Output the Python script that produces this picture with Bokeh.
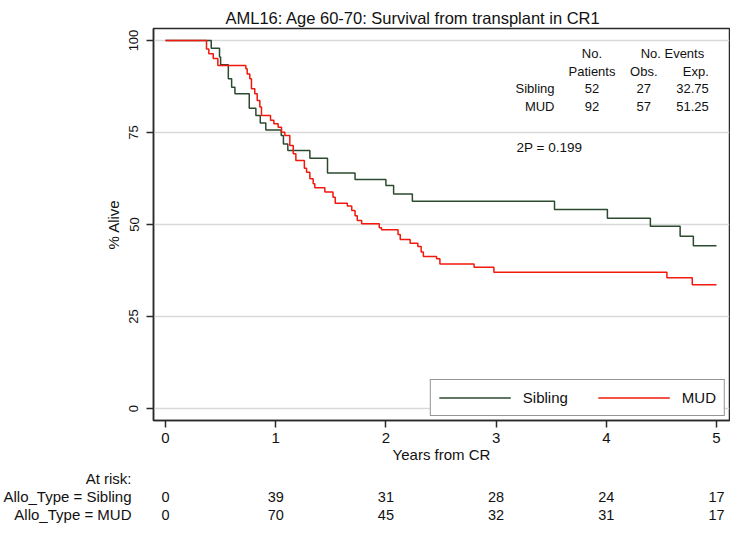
from bokeh.plotting import figure
from bokeh.models import Range1d, FixedTicker, Legend, LegendItem, ColumnDataSource
from bokeh.layouts import column
from bokeh.embed import file_html
from bokeh.resources import INLINE
from bokeh.core.properties import value

FONT = "Liberation Sans"

# ---------------- data ----------------
title_text = "AML16: Age 60-70: Survival from transplant in CR1"
groups = ["Sibling", "MUD"]

sibling_t = [0, 0.415, 0.49, 0.50, 0.57, 0.60, 0.63, 0.76, 0.82, 0.86, 0.91, 1.05,
             1.07, 1.11, 1.31, 1.47, 1.72, 2.00, 2.07, 2.24, 3.53, 4.01, 4.40, 4.67,
             4.79, 5.0]
sibling_s = [100, 97.9, 95.5, 93.4, 89.6, 87.3, 85.5, 81.6, 79.6, 77.6, 75.7, 74.2,
             71.9, 70.1, 68.0, 64.0, 62.2, 60.6, 58.3, 56.3, 54.1, 51.7, 49.5, 46.8,
             44.2, 44.2]

mud_t = [0, 0.372, 0.393, 0.433, 0.475, 0.729, 0.741, 0.765, 0.78, 0.81, 0.832, 0.856,
         0.871, 0.953, 0.983, 1.022, 1.053, 1.083, 1.128, 1.159, 1.183, 1.26, 1.28,
         1.31, 1.34, 1.355, 1.446, 1.52, 1.54, 1.65, 1.69, 1.72, 1.74, 1.78, 1.94,
         1.96, 2.11, 2.13, 2.22, 2.29, 2.32, 2.34, 2.46, 2.49, 2.80, 2.98, 4.55, 4.78,
         5.0]
mud_s = [100, 97.7, 96.4, 95.1, 93.2, 92.3, 90.9, 89.6, 86.9, 85.5, 83.7, 81.9,
         79.6, 78.3, 77.4, 76.4, 75.1, 74.2, 71.5, 69.2, 67.4, 65.3, 64.2,
         62.4, 61.1, 60.0, 58.8, 57.4, 55.8, 55.0, 53.8, 52.4, 51.1, 50.2, 49.1,
         48.6, 47.3, 45.9, 44.9, 44.0, 42.5, 41.3, 40.7, 39.3, 38.4, 37.0, 35.5, 33.6,
         33.6]

n_patients = [52, 92]
obs_events = [27, 57]
exp_events = [32.75, 51.25]
p_value = 0.199

x_ticks = [0, 1, 2, 3, 4, 5]
y_ticks = [0, 25, 50, 75, 100]

risk_years = [0, 1, 2, 3, 4, 5]
risk_sibling = [0, 39, 31, 28, 24, 17]
risk_mud = [0, 70, 45, 32, 31, 17]
risk_labels = ["At risk:", "Allo_Type = Sibling", "Allo_Type = MUD"]

SIB_COLOR = "#2b4a30"
MUD_COLOR = "#f2180c"
AXIS_COLOR = "#2a2a2a"
TEXT_COLOR = "#111111"

# ---------------- main plot ----------------
x_range = Range1d(-0.109, 5.118)
p = figure(frame_width=576, frame_height=392, min_border_left=152, min_border_right=2,
           min_border_top=28, min_border_bottom=46,
           x_range=x_range, y_range=Range1d(-3.26, 103.26),
           output_backend="svg", toolbar_location=None,
           background_fill_color="white", border_fill_color="white")

p.title.text = title_text
p.title.text_font = FONT
p.title.text_font_size = "16.5px"
p.title.text_font_style = "normal"
p.title.text_color = TEXT_COLOR
p.title.align = "left"
p.title.offset = 72
p.title.standoff = 4

p.outline_line_color = AXIS_COLOR
p.outline_line_width = 1.5
p.outline_line_alpha = 1.0

p.xgrid.visible = False
p.ygrid.ticker = FixedTicker(ticks=y_ticks)
p.ygrid.grid_line_color = "#d9d9d9"
p.ygrid.grid_line_width = 1.5

p.xaxis.ticker = FixedTicker(ticks=x_ticks)
p.yaxis.ticker = FixedTicker(ticks=y_ticks)
for ax in (p.xaxis[0], p.yaxis[0]):
    ax.axis_line_color = AXIS_COLOR
    ax.axis_line_width = 1.5
    ax.major_tick_line_color = AXIS_COLOR
    ax.major_tick_line_width = 1.5
    ax.major_tick_in = 0
    ax.major_tick_out = 7
    ax.minor_tick_line_color = None
    ax.major_label_text_font = FONT
    ax.major_label_text_color = TEXT_COLOR
    ax.axis_label_text_font = FONT
    ax.axis_label_text_font_style = "normal"
    ax.axis_label_text_color = TEXT_COLOR

p.xaxis.major_label_text_font_size = "15px"
p.xaxis.major_label_standoff = 5
p.xaxis.axis_label = "Years from CR"
p.xaxis.axis_label_text_font_size = "15px"
p.xaxis.axis_label_standoff = 0

p.yaxis.major_label_text_font_size = "13px"
p.yaxis.major_label_orientation = "vertical"
p.yaxis.major_label_standoff = 8
p.yaxis.axis_label = "% Alive"
p.yaxis.axis_label_text_font_size = "15px"
p.yaxis.axis_label_standoff = 5

r_sib = p.step(sibling_t, sibling_s, mode="after", line_color=SIB_COLOR, line_width=1.5)
r_mud = p.step(mud_t, mud_s, mode="after", line_color=MUD_COLOR, line_width=1.5)

legend = Legend(items=[LegendItem(label="Sibling", renderers=[r_sib]),
                       LegendItem(label="MUD", renderers=[r_mud])],
                orientation="horizontal", location="bottom_right",
                margin=4, padding=8, spacing=30, label_standoff=12,
                glyph_width=72, glyph_height=19, label_height=19,
                label_text_font=FONT, label_text_font_size="15px",
                label_text_color=TEXT_COLOR,
                border_line_color=AXIS_COLOR, border_line_width=1.5,
                background_fill_color="white", background_fill_alpha=1.0)
p.add_layout(legend)

# statistics table (positions in data coordinates)
hdr_y1, hdr_y2 = 96.5, 91.7
row_y = [86.9, 82.1]
col_group, col_pat, col_obs, col_exp, col_events = 3.53, 3.87, 4.34, 4.93, 4.60
tf = value(FONT)
fs = "13px"
p.text(x=[col_pat, col_events], y=[hdr_y1, hdr_y1], text=["No.", "No. Events"],
       text_align="center", text_baseline="middle", text_font=tf, text_font_size=fs,
       text_color=TEXT_COLOR)
p.text(x=[col_pat, col_obs], y=[hdr_y2, hdr_y2], text=["Patients", "Obs."],
       text_align="center", text_baseline="middle", text_font=tf, text_font_size=fs,
       text_color=TEXT_COLOR)
p.text(x=[col_exp], y=[hdr_y2], text=["Exp."],
       text_align="right", text_baseline="middle", text_font=tf, text_font_size=fs,
       text_color=TEXT_COLOR)
p.text(x=[col_group] * 2, y=row_y, text=groups,
       text_align="right", text_baseline="middle", text_font=tf, text_font_size=fs,
       text_color=TEXT_COLOR)
p.text(x=[col_pat] * 2, y=row_y, text=[str(v) for v in n_patients],
       text_align="center", text_baseline="middle", text_font=tf, text_font_size=fs,
       text_color=TEXT_COLOR)
p.text(x=[col_obs] * 2, y=row_y, text=[str(v) for v in obs_events],
       text_align="center", text_baseline="middle", text_font=tf, text_font_size=fs,
       text_color=TEXT_COLOR)
p.text(x=[col_exp] * 2, y=row_y, text=[f"{v:.2f}" for v in exp_events],
       text_align="right", text_baseline="middle", text_font=tf, text_font_size=fs,
       text_color=TEXT_COLOR)
p.text(x=[3.185], y=[70.8], text=[f"2P = {p_value:.3f}"],
       text_align="left", text_baseline="middle", text_font=tf, text_font_size="13.5px",
       text_color=TEXT_COLOR)

# ---------------- at-risk table ----------------
r = figure(frame_width=576, frame_height=59, min_border_left=152, min_border_right=2,
           min_border_top=0, min_border_bottom=0,
           x_range=x_range, y_range=Range1d(0.4167, 3.694),
           x_axis_location=None,
           output_backend="svg", toolbar_location=None,
           background_fill_color="white", border_fill_color="white")
r.outline_line_color = None
r.grid.visible = False
r.yaxis.ticker = FixedTicker(ticks=[3, 2, 1])
r.yaxis.major_label_overrides = {3: risk_labels[0], 2: risk_labels[1], 1: risk_labels[2]}
r.yaxis.axis_line_color = None
r.yaxis.major_tick_line_color = None
r.yaxis.minor_tick_line_color = None
r.yaxis.major_label_standoff = 16
r.yaxis.major_label_text_font = FONT
r.yaxis.major_label_text_font_size = "15px"
r.yaxis.major_label_text_color = TEXT_COLOR

src = ColumnDataSource(dict(
    x=risk_years + risk_years,
    y=[2] * len(risk_years) + [1] * len(risk_years),
    t=[str(v) for v in risk_sibling] + [str(v) for v in risk_mud]))
r.text(x="x", y="y", text="t", source=src, text_align="center", text_baseline="middle",
       text_font=tf, text_font_size="14.5px", text_color=TEXT_COLOR)

layout = column(p, r, spacing=0)
open("out.html", "w").write(file_html(layout, INLINE))
